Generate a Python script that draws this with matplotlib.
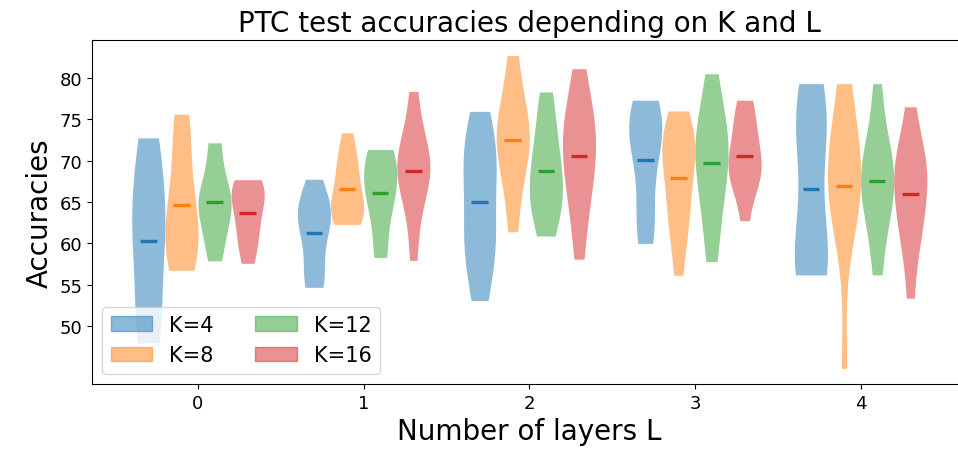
import numpy as np
import matplotlib
matplotlib.use("Agg")
import matplotlib.pyplot as plt
import matplotlib.patches as mpatches

layers = [0, 1, 2, 3, 4]
k_values = [4, 8, 12, 16]

# test accuracies per fold, one list per number of layers L
acc_k4 = [
    [48.0, 49.5, 51.0, 57.1, 60.0, 62.9, 63.5, 66.55, 71.4, 72.75],
    [54.7, 55.5, 56.5, 60.0, 62.0, 63.0, 64.25, 64.5, 64.5, 67.75],
    [53.1, 57.0, 60.0, 61.0, 62.0, 68.0, 69.5, 70.5, 72.45, 75.95],
    [60.0, 61.5, 64.0, 68.2, 72.5, 73.0, 73.5, 75.0, 76.0, 77.3],
    [56.2, 56.8, 57.5, 58.5, 62.2, 70.0, 73.5, 75.5, 76.5, 79.3],
]
acc_k8 = [
    [56.75, 57.5, 58.8, 61.35, 62.0, 64.0, 66.0, 70.0, 74.0, 75.6],
    [62.3, 63.0, 63.5, 64.3, 65.0, 66.05, 68.5, 69.2, 70.8, 73.35],
    [61.4, 66.0, 69.0, 71.0, 72.5, 73.5, 74.0, 75.4, 79.0, 82.7],
    [56.15, 62.0, 63.5, 64.5, 69.5, 70.5, 71.5, 72.5, 72.85, 76.0],
    [44.9, 62.0, 64.5, 66.0, 67.0, 68.0, 69.8, 72.5, 75.5, 79.3],
]
acc_k12 = [
    [57.9, 60.0, 61.5, 64.3, 65.0, 65.5, 65.7, 65.95, 71.5, 72.15],
    [58.3, 59.5, 64.0, 65.0, 66.0, 67.85, 68.5, 70.0, 71.0, 71.35],
    [60.9, 63.0, 65.0, 66.0, 67.0, 68.5, 71.0, 72.3, 75.5, 78.3],
    [57.8, 62.2, 65.5, 67.5, 70.0, 71.5, 72.5, 73.5, 76.5, 80.5],
    [56.2, 61.0, 64.0, 66.0, 67.0, 68.0, 69.0, 71.0, 73.5, 79.3],
]
acc_k16 = [
    [57.6, 59.5, 61.0, 62.5, 63.5, 65.5, 66.0, 66.5, 67.2, 67.7],
    [57.95, 63.2, 66.5, 68.0, 69.0, 69.5, 70.0, 71.0, 74.0, 78.35],
    [58.1, 63.5, 66.0, 68.5, 70.5, 72.0, 73.5, 74.8, 77.0, 81.1],
    [62.75, 67.5, 68.0, 68.5, 69.0, 70.95, 72.0, 74.0, 76.0, 77.3],
    [53.4, 60.5, 62.0, 63.0, 67.0, 68.0, 69.0, 69.6, 71.0, 76.5],
]

all_acc = [acc_k4, acc_k8, acc_k12, acc_k16]
colors = ["tab:blue", "tab:orange", "tab:green", "tab:red"]
offsets = [-0.3, -0.1, 0.1, 0.3]

fig = plt.figure(figsize=(9.58, 4.64), dpi=100)
# the right side of the axes runs past the edge of the image, as in the original
ax = fig.add_axes([0.096, 0.170, 0.913, 0.742])

handles = []
for acc, c, off, k in zip(all_acc, colors, offsets, k_values):
    pos = np.array(layers) + off
    parts = ax.violinplot(acc, positions=pos, widths=0.2,
                          showmeans=True, showextrema=False)
    for body in parts["bodies"]:
        body.set_facecolor(c)
        body.set_edgecolor(c)
        body.set_linewidth(0)
        body.set_alpha(0.5)
    parts["cmeans"].set_color(c)
    parts["cmeans"].set_linewidth(2.4)
    handles.append(mpatches.Patch(color=c, alpha=0.5, label=f"K={k}"))

ax.spines["right"].set_visible(False)
ax.set_xticks(layers)
ax.set_yticks([50, 55, 60, 65, 70, 75, 80])
ax.tick_params(labelsize=13)
ax.set_xlabel("Number of layers L", fontsize=20)
ax.set_ylabel("Accuracies", fontsize=20)
ax.set_title("PTC test accuracies depending on K and L", fontsize=20)
ax.legend(handles=handles, ncol=2, loc="lower left", fontsize=15)

fig.savefig("out.png", dpi=100)
